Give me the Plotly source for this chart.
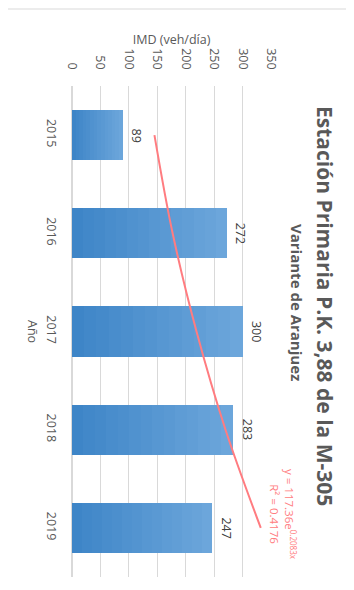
import plotly.graph_objects as go

# Chart data
years = ["2015", "2016", "2017", "2018", "2019"]
imd = [89, 272, 300, 283, 247]
# exponential trend values at each year
trend = [145, 177, 219, 270, 332]
value_ticks = [0, 50, 100, 150, 200, 250, 300, 350]

THEME = {
    "text": "#595959",
    "label": "#404040",
    "grid": "#D9D9D9",
    "bar_dark": (62, 133, 199),
    "bar_light": (108, 166, 219),
    "trend": "#FF7C80",
}
FONT = "Open Sans"

# plot area in screen pixels (page has an 8px body margin)
PX0, PX1, PY0, PY1 = 72, 271, 86, 577


def px(xs):
    return (xs - PX0) / (PX1 - PX0)


def py(ys):
    return (PY1 - ys) / (PY1 - PY0)


def lerp_color(a, b, t):
    return "rgb(%d,%d,%d)" % tuple(round(a[i] + (b[i] - a[i]) * t) for i in range(3))


fig = go.Figure()

# bars drawn as stacked slices to mimic the left-to-right gradient fill
n_slices = 14
for k in range(n_slices):
    fig.add_trace(go.Bar(
        x=[v / n_slices for v in imd],
        y=years,
        orientation="h",
        marker=dict(color=lerp_color(THEME["bar_dark"], THEME["bar_light"], k / (n_slices - 1)),
                    line=dict(width=0)),
        showlegend=False,
        hoverinfo="skip",
    ))

# exponential trendline
fig.add_trace(go.Scatter(
    x=trend,
    y=years,
    mode="lines",
    line=dict(color=THEME["trend"], width=2, shape="spline"),
    showlegend=False,
))

# value labels (category position by index)
for i, v in enumerate(imd):
    fig.add_annotation(
        x=v, y=i, xref="x", yref="y",
        text=str(v), textangle=90, showarrow=False,
        xanchor="center", yanchor="middle", xshift=14,
        font=dict(family=FONT, size=12.5, color=THEME["label"]),
    )

# title + subtitle (rotated like the source)
fig.add_annotation(
    x=px(325), y=py(306), xref="paper", yref="paper",
    text="<b>Estación Primaria P.K. 3,88 de la M-305</b>",
    textangle=90, showarrow=False, xanchor="center", yanchor="middle",
    font=dict(family=FONT, size=21, color=THEME["text"]),
)
fig.add_annotation(
    x=px(297), y=py(302), xref="paper", yref="paper",
    text="<b>Variante de Aranjuez</b>",
    textangle=90, showarrow=False, xanchor="center", yanchor="middle",
    font=dict(family=FONT, size=15, color=THEME["text"]),
)

# trend equation
fig.add_annotation(
    x=px(283), y=py(514), xref="paper", yref="paper",
    text="y = 117.36e<sup>0.2083x</sup><br>R² = 0.4176",
    textangle=90, showarrow=False, align="center",
    xanchor="center", yanchor="middle",
    font=dict(family=FONT, size=11.5, color=THEME["trend"]),
)

# category axis title
fig.add_annotation(
    x=px(33), y=py(331), xref="paper", yref="paper",
    text="Año", textangle=90, showarrow=False,
    xanchor="center", yanchor="middle",
    font=dict(family=FONT, size=12.5, color=THEME["text"]),
)

# outer chart frame
fig.add_shape(
    type="rect", xref="paper", yref="paper",
    x0=px(7), x1=px(352), y0=py(610), y1=py(9),
    line=dict(color=THEME["grid"], width=1),
)

fig.update_layout(
    width=354, height=590,
    barmode="stack",
    bargap=0.49,
    plot_bgcolor="white",
    paper_bgcolor="white",
    font=dict(family=FONT, color=THEME["text"]),
    margin=dict(l=PX0 - 8, r=354 - PX1 + 8, t=PY0 - 8, b=590 - PY1 + 8),
    xaxis=dict(
        side="top",
        range=[0, 350],
        tickvals=value_ticks,
        tickangle=90,
        ticks="outside", ticklen=11, tickcolor="white",
        automargin=False,
        showgrid=True, gridcolor=THEME["grid"], gridwidth=1,
        zeroline=True, zerolinecolor=THEME["grid"],
        tickfont=dict(family=FONT, size=12.5, color=THEME["text"]),
        title=dict(text="IMD (veh/día)", standoff=0,
                   font=dict(family=FONT, size=12.5, color=THEME["text"])),
        fixedrange=True,
    ),
    yaxis=dict(
        type="category",
        categoryorder="array",
        categoryarray=years,
        range=[4.5, -0.5],
        tickangle=90,
        automargin=False,
        showgrid=False,
        showline=False,
        ticks="outside", ticklen=9, tickcolor="white",
        tickfont=dict(family=FONT, size=12.5, color=THEME["text"]),
        fixedrange=True,
    ),
)

fig.write_html("out.html")
